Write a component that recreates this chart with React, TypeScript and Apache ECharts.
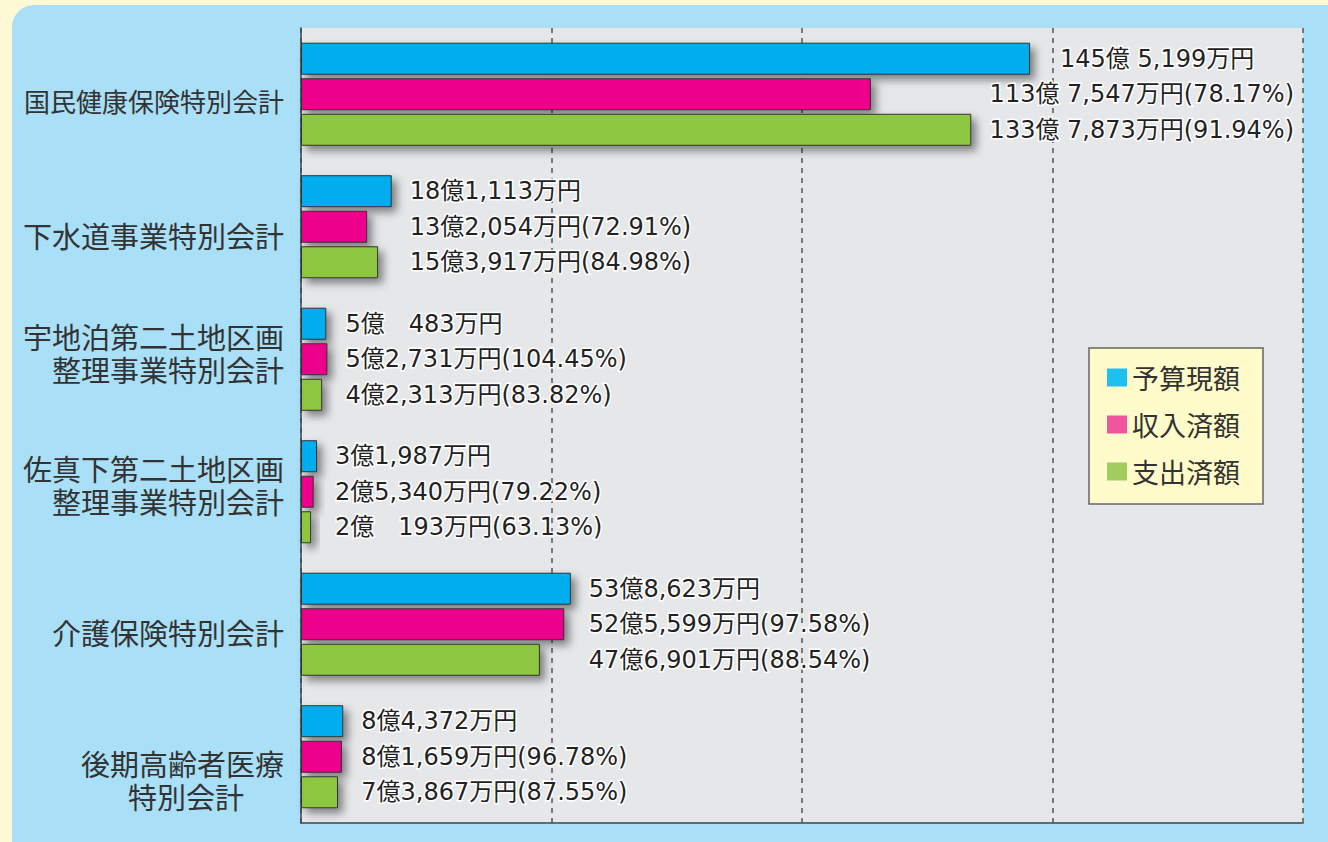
import React, { useEffect, useRef } from "react";
import * as echarts from "echarts";

const categories = [
  "国民健康保険特別会計",
  "下水道事業特別会計",
  "宇地泊第二土地区画\n整理事業特別会計",
  "佐真下第二土地区画\n整理事業特別会計",
  "介護保険特別会計",
  "後期高齢者医療\n特別会計",
];
// 万円
const budget = [1455199, 181113, 50483, 31987, 538623, 84372];
const income = [1137547, 132054, 52731, 25340, 525599, 81659];
const expense = [1337873, 153917, 42313, 20193, 476901, 73867];
const incomePct = [78.17, 72.91, 104.45, 79.22, 97.58, 96.78];
const expensePct = [91.94, 84.98, 83.82, 63.13, 88.54, 87.55];
const seriesNames = ["予算現額", "収入済額", "支出済額"];
const barColors = ["#00aeef", "#ec008c", "#8dc63f"];
const legendColors = ["#1ec0f0", "#f0569e", "#a3cc5f"];

const X_MAX = 200;
const GRID_LEFT = 301;
const GRID_RIGHT = 25;
const GRID_W = 1328 - GRID_LEFT - GRID_RIGHT;
const CJK = "Noto Sans CJK JP";
const LABEL_FONT = "'DejaVu Sans', 'Noto Sans CJK JP'";

function fmtMoney(m: number): string {
  const oku = Math.floor(m / 10000);
  const rest = m % 10000;
  let restStr = rest.toLocaleString("en-US");
  if (rest < 1000) restStr = "\u3000" + restStr;
  const sep = oku >= 100 ? " " : "";
  return `${oku}億${sep}${restStr}万円`;
}

const catBase = { fontSize: 29, color: "#333", fontFamily: CJK, lineHeight: 33 };
const richStyles: Record<string, any> = {
  a: { ...catBase, fontSize: 26, padding: [12, 0, 0, 0] },
  b: { ...catBase, padding: [16, 0, 0, 0] },
  n: { ...catBase },
  c2: { ...catBase, padding: [0, 40, 0, 0] },
  sp14: { fontSize: 4, lineHeight: 14 },
  sp46: { fontSize: 4, lineHeight: 46 },
};
const catTags: Array<{ pre?: string; tags: string[]; post?: string }> = [
  { tags: ["a"] },
  { tags: ["b"] },
  { tags: ["n", "n"], post: "sp14" },
  { tags: ["n", "n"], post: "sp14" },
  { tags: ["b"] },
  { pre: "sp46", tags: ["n", "c2"] },
];

export default function App() {
  const ref = useRef<HTMLDivElement>(null);
  useEffect(() => {
    if (!ref.current) return;
    const chart = echarts.init(ref.current, null, { renderer: "svg" });
    const allSeries = [budget, income, expense];
    const pcts = [null, incomePct, expensePct];

    const makeData = (s: number) =>
      allSeries[s].map((m, i) => {
        const groupMax = Math.max(budget[i], income[i], expense[i]) / 10000;
        let x = (groupMax / X_MAX) * GRID_W + 18;
        let align = "left";
        if (i === 0) {
          if (s === 0) {
            x = (m / 10000 / X_MAX) * GRID_W + 30;
          } else {
            x = GRID_W - 9;
            align = "right";
          }
        }
        return {
          value: m / 10000,
          label: { position: [x, "50%"], align, verticalAlign: "middle" },
        };
      });

    const series = [0, 1, 2].map((s) => ({
      name: seriesNames[s],
      type: "bar",
      barWidth: 32,
      barGap: "11%",
      data: makeData(s),
      itemStyle: {
        color: barColors[s],
        borderColor: "#333",
        borderWidth: 1,
        shadowColor: "rgba(0,0,0,0.45)",
        shadowBlur: 8,
        shadowOffsetX: 5,
        shadowOffsetY: 5,
      },
      label: {
        show: true,
        fontSize: 24,
        fontFamily: LABEL_FONT,
        color: "#222",
        textBorderColor: "#fff",
        textBorderWidth: 3,
        formatter: (p: any) => {
          const i = p.dataIndex;
          const base = fmtMoney(allSeries[s][i]);
          const pc = pcts[s];
          return pc ? `${base}(${pc[i].toFixed(2)}%)` : base;
        },
      },
    }));

    chart.setOption({
      animation: false,
      backgroundColor: "#fffad6",
      textStyle: { fontFamily: CJK },
      graphic: [
        {
          type: "rect",
          z: -10,
          shape: { x: 12, y: 5, width: 1340, height: 860, r: [22, 0, 0, 0] },
          style: { fill: "#aadff8" },
          silent: true,
        },
      ],
      grid: {
        left: GRID_LEFT,
        right: GRID_RIGHT,
        top: 28,
        bottom: 19,
        show: true,
        backgroundColor: "#e6e7e9",
        borderWidth: 0,
      },
      legend: {
        orient: "vertical",
        left: 1089,
        top: 348,
        padding: [16, 23, 19, 18],
        itemGap: 20,
        itemWidth: 20,
        itemHeight: 18,
        icon: "rect",
        backgroundColor: "#fffbca",
        borderColor: "#666",
        borderWidth: 1.5,
        textStyle: { fontSize: 27, color: "#333", fontFamily: CJK },
        data: seriesNames.map((n, k) => ({
          name: n,
          itemStyle: { color: legendColors[k], borderWidth: 0, shadowBlur: 0, shadowOffsetX: 0, shadowOffsetY: 0 },
        })),
      },
      xAxis: {
        type: "value",
        min: 0,
        max: X_MAX,
        interval: 50,
        axisLabel: { show: false },
        axisTick: { show: false },
        axisLine: { show: true, lineStyle: { color: "#444", width: 1.5 } },
        splitLine: {
          show: true,
          lineStyle: { color: "#555", width: 1.5, type: [5, 5] },
        },
      },
      yAxis: {
        type: "category",
        inverse: true,
        data: categories,
        axisTick: { show: false },
        axisLine: { show: true, lineStyle: { color: "#444", width: 1.5 } },
        axisLabel: {
          fontSize: 29,
          color: "#333",
          margin: 17,
          lineHeight: 33,
          fontFamily: CJK,
          align: "right",
          rich: richStyles,
          formatter: (value: string, index: number) => {
            const spec = catTags[index];
            const lines = value.split("\n").map((line, k) => `{${spec.tags[k]}|${line}}`);
            if (spec.pre) lines.unshift(`{${spec.pre}| }`);
            if (spec.post) lines.push(`{${spec.post}| }`);
            return lines.join("\n");
          },
        },
      },
      series,
    });
    return () => chart.dispose();
  }, []);
  return (
    <div
      ref={ref}
      style={{ position: "fixed", left: 0, top: 0, width: 1328, height: 842 }}
    />
  );
}
